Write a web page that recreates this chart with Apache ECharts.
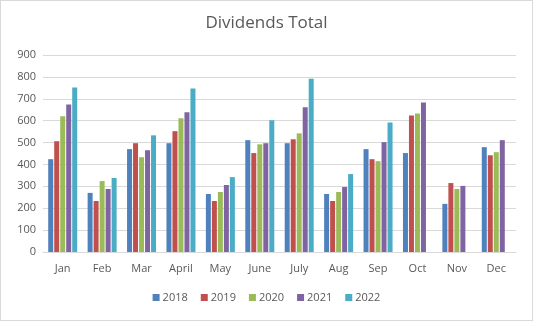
<!DOCTYPE html>
<html>
<head>
<meta charset="utf-8">
<script src="https://cdn.jsdelivr.net/npm/echarts@6/dist/echarts.min.js"></script>
<style>
html,body{margin:0;padding:0;background:#fff;}
#c{width:533px;height:321px;box-sizing:border-box;border:1px solid #d9d9d9;}
</style>
</head>
<body>
<div id="c"></div>
<script>
const categories = ['Jan','Feb','Mar','April','May','June','July','Aug','Sep','Oct','Nov','Dec'];
const s2018 = [424, 270, 470, 497, 265, 511, 497, 265, 470, 452, 220, 479];
const s2019 = [506, 233, 497, 552, 233, 452, 515, 233, 424, 624, 315, 442];
const s2020 = [620, 324, 433, 611, 274, 492, 542, 274, 415, 633, 288, 456];
const s2021 = [674, 288, 465, 638, 306, 497, 661, 297, 502, 683, 302, 511];
const s2022 = [752, 338, 533, 747, 342, 602, 792, 356, 592, null, null, null];
const seriesNames = ['2018','2019','2020','2021','2022'];
const yTicks = [0, 900, 100];

const colors = ['#4F81BD','#C0504D','#9BBB59','#8064A2','#4BACC6'];
const font = '"Open Sans", sans-serif';
const chart = echarts.init(document.getElementById('c'));
const allData = [s2018, s2019, s2020, s2021, s2022];
chart.setOption({
  animation: false,
  color: colors,
  title: {
    text: 'Dividends Total', left: 'center', top: 9,
    textStyle: {fontFamily: font, fontSize: 17, fontWeight: 'normal', color: '#595959'}
  },
  legend: {
    bottom: 12, left: 'center', itemWidth: 7, itemHeight: 7, itemGap: 13,
    icon: 'rect',
    textStyle: {fontFamily: font, fontSize: 11, color: '#595959', padding: [0,0,0,-2]},
    data: seriesNames
  },
  grid: {left: 42, right: 16, top: 54, bottom: 68, containLabel: false},
  xAxis: {
    type: 'category', data: categories,
    axisLine: {lineStyle: {color: '#d9d9d9'}},
    axisTick: {show: false},
    axisLabel: {fontFamily: font, fontSize: 11, color: '#595959', margin: 11}
  },
  yAxis: {
    type: 'value', min: yTicks[0], max: yTicks[1], interval: yTicks[2],
    axisLine: {show: false}, axisTick: {show: false},
    splitLine: {lineStyle: {color: '#d9d9d9'}},
    axisLabel: {fontFamily: font, fontSize: 11, color: '#595959', margin: 7}
  },
  series: seriesNames.map((n, i) => ({
    name: n, type: 'bar', data: allData[i], barWidth: 5, barGap: '20%'
  }))
});
</script>
</body>
</html>
